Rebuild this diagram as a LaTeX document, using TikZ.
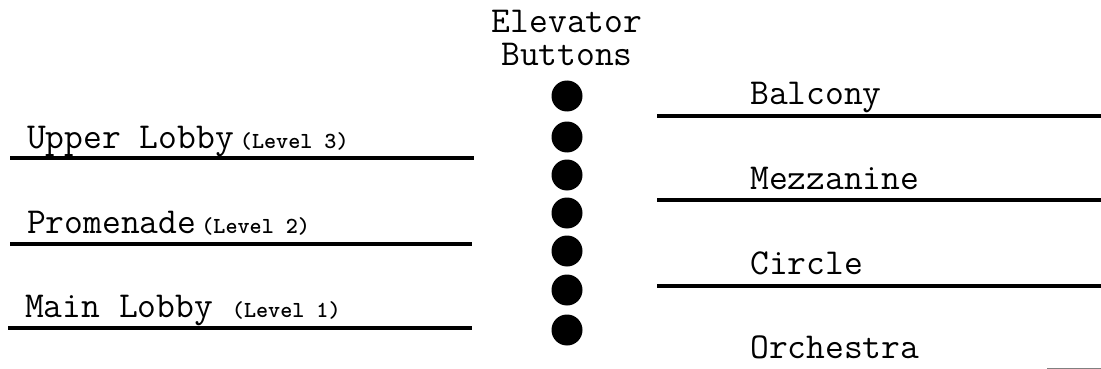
\documentclass[tikz,border=0pt]{standalone}
\usepackage{fontspec}
\newcommand{\lvl}[1]{{\fontsize{23}{25}\selectfont\bfseries(#1)}}

\begin{document}
\begin{tikzpicture}[
    x=1pt, y=-1pt,
    every node/.style={inner sep=0pt, font=\ttfamily\fontsize{36.5}{34}\selectfont},
    label/.style={anchor=base west},
    button/.style={circle, fill=black, minimum size=31pt},
    floor/.style={line width=3.5pt}
]
\useasboundingbox (0,0) rectangle (1101,369);

% Heading
\node[align=center] (head) at (567,38) {Elevator\\[-1pt]Buttons};

% Buttons
\node[button] (b1) at (567,96) {};
\node[button] (b2) at (567,137) {};
\node[button] (b3) at (567,175) {};
\node[button] (b4) at (567,213) {};
\node[button] (b5) at (567,251) {};
\node[button] (b6) at (567,290) {};
\node[button] (b7) at (567,330) {};

% Left floors
\node[label] (upper) at (27,148) {Upper Lobby\kern6pt\lvl{Level 3}};
\node[label] (prom) at (27,233) {Promenade\kern5pt\lvl{Level 2}};
\node[label] (main) at (25,317) {Main Lobby \lvl{Level 1}};
\draw[floor] (10,158) -- (474,158);
\draw[floor] (10,244) -- (472,244);
\draw[floor] (8,328) -- (472,328);

% Right floors
\node[label] (balc) at (750,105) {Balcony};
\node[label] (mezz) at (750,189) {Mezzanine};
\node[label] (circ) at (750,274) {Circle};
\node[label] (orch) at (750,358) {Orchestra};
\draw[floor] (657,116) -- (1101,116);
\draw[floor] (657,200) -- (1101,200);
\draw[floor] (657,286) -- (1101,286);
\draw[line width=1pt, gray] (1047,368) -- (1101,368);

\end{tikzpicture}
\end{document}
